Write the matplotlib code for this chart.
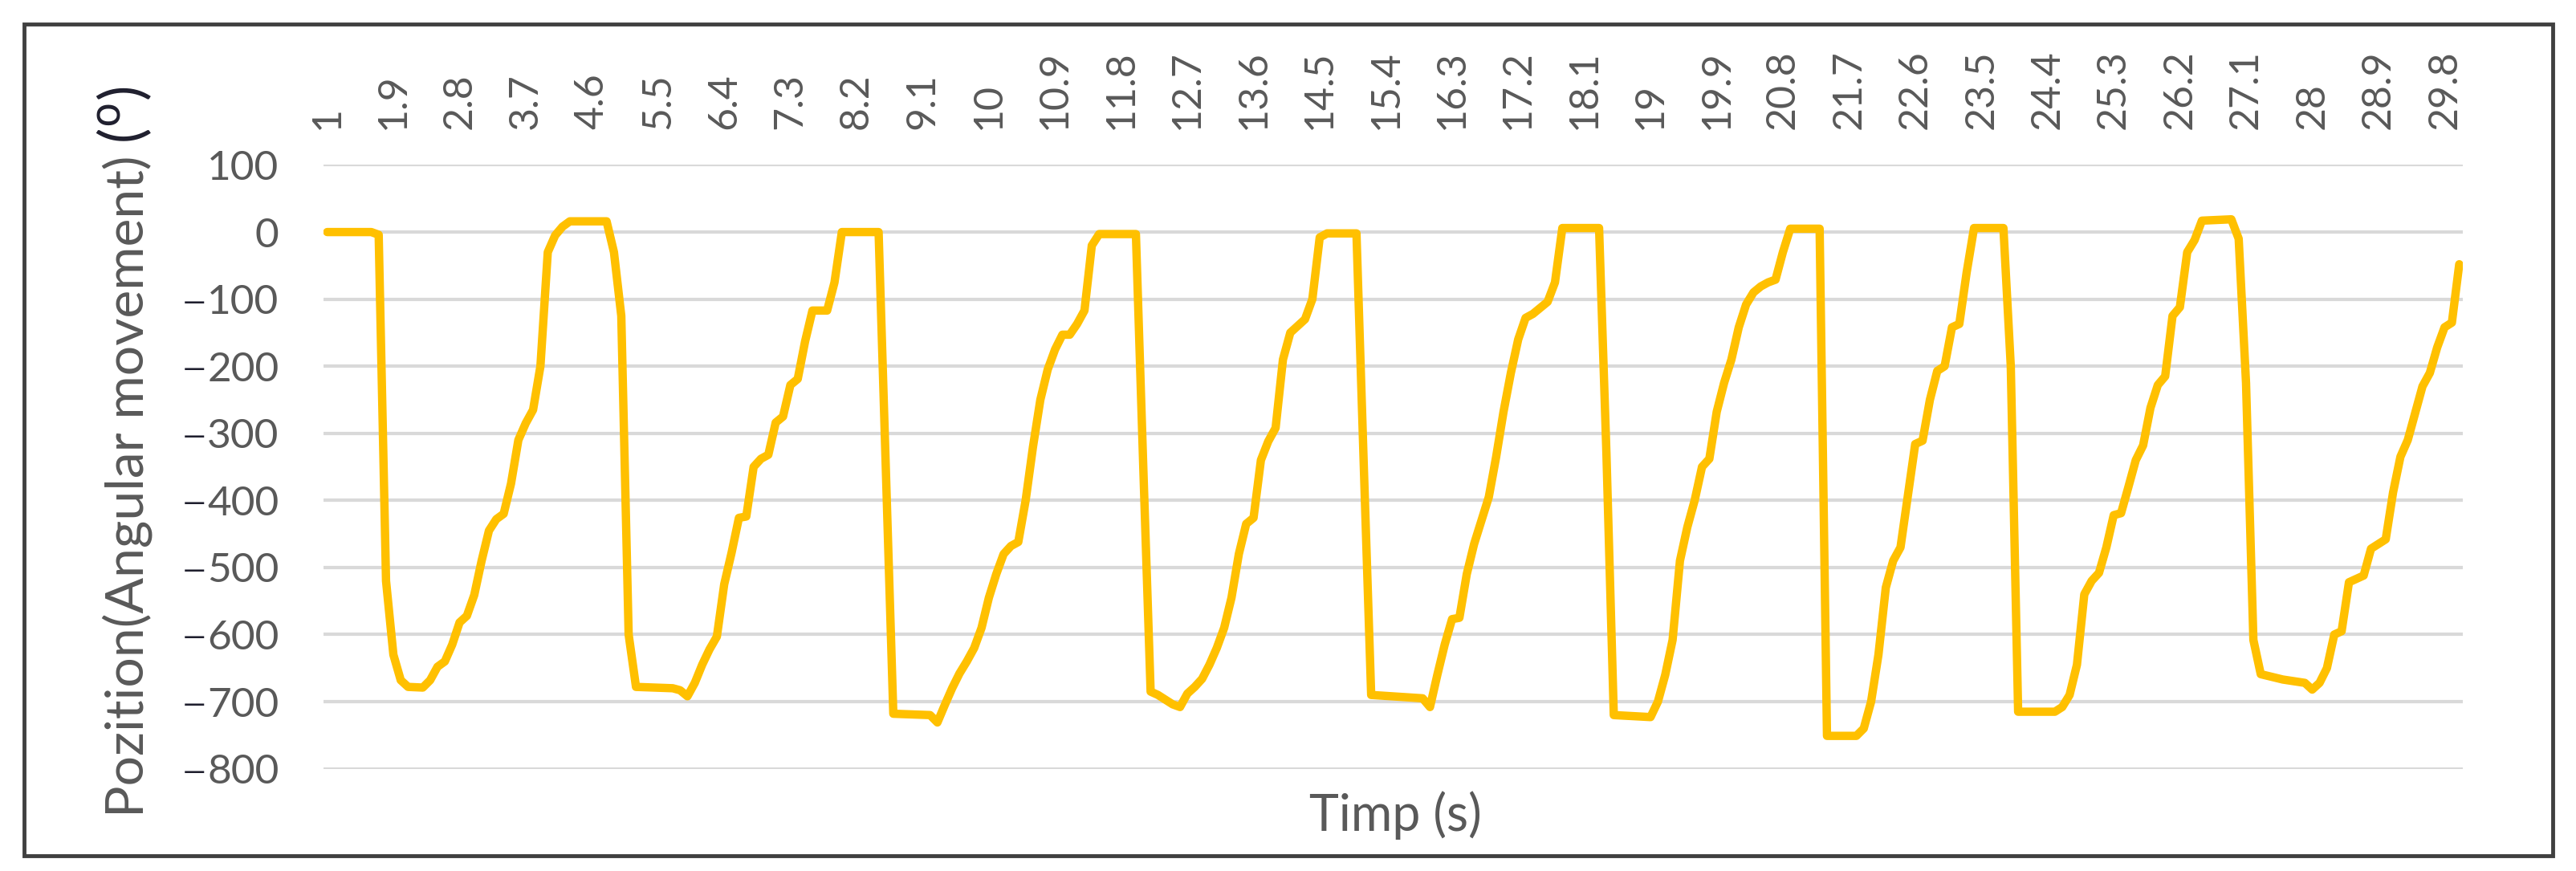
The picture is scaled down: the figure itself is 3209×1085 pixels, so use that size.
import matplotlib
matplotlib.use("Agg")
import matplotlib.pyplot as plt
from matplotlib.patches import Rectangle

# samples (time in s, angle in degrees)
time_s = [
    1.0, 1.6, 1.7, 1.8, 1.9, 2.0, 2.1, 2.3, 2.4, 2.5, 2.6, 2.7, 2.8, 2.9,
    3.0, 3.1, 3.2, 3.3, 3.4, 3.5, 3.6, 3.7, 3.8, 3.9, 4.0, 4.1, 4.2, 4.3,
    4.8, 4.9, 5.0, 5.1, 5.2, 5.7, 5.8, 5.9, 6.0, 6.1, 6.2, 6.3, 6.4, 6.5,
    6.6, 6.7, 6.8, 6.9, 7.0, 7.1, 7.2, 7.3, 7.4, 7.5, 7.6, 7.8, 7.9, 8.0,
    8.5, 8.6, 8.7, 9.2, 9.3, 9.4, 9.5, 9.6, 9.7, 9.8, 9.9, 10.0, 10.1,
    10.2, 10.3, 10.4, 10.5, 10.6, 10.7, 10.8, 10.9, 11.0, 11.1, 11.2, 11.3,
    11.4, 11.5, 12.0, 12.1, 12.2, 12.3, 12.4, 12.5, 12.6, 12.7, 12.8, 12.9,
    13.0, 13.1, 13.2, 13.3, 13.4, 13.5, 13.6, 13.7, 13.8, 13.9, 14.0, 14.1,
    14.2, 14.3, 14.4, 14.5, 14.6, 15.0, 15.1, 15.2, 15.9, 16.0, 16.1, 16.2,
    16.3, 16.4, 16.5, 16.6, 16.7, 16.8, 16.9, 17.0, 17.1, 17.2, 17.3, 17.4,
    17.5, 17.6, 17.7, 17.8, 18.3, 18.4, 18.5, 19.0, 19.1, 19.2, 19.3, 19.4,
    19.5, 19.6, 19.7, 19.8, 19.9, 20.0, 20.1, 20.2, 20.3, 20.4, 20.5, 20.6,
    20.7, 20.8, 20.9, 21.3, 21.4, 21.8, 21.9, 22.0, 22.1, 22.2, 22.3, 22.4,
    22.5, 22.6, 22.7, 22.8, 22.9, 23.0, 23.1, 23.2, 23.3, 23.4, 23.8, 23.9,
    24.0, 24.5, 24.6, 24.7, 24.8, 24.9, 25.0, 25.1, 25.2, 25.3, 25.4, 25.5,
    25.6, 25.7, 25.8, 25.9, 26.0, 26.1, 26.2, 26.3, 26.4, 26.5, 26.9, 27.0,
    27.1, 27.2, 27.3, 27.6, 27.9, 28.0, 28.1, 28.2, 28.3, 28.4, 28.5, 28.6,
    28.7, 28.8, 28.9, 29.0, 29.1, 29.2, 29.3, 29.4, 29.5, 29.6, 29.7, 29.8,
    29.9, 30.0,
]
angle_deg = [
    0, 0, -4, -520, -630, -668, -678, -679, -668, -648, -640, -615, -582, -572,
    -541, -490, -445, -428, -420, -375, -310, -285, -265, -200, -30, -5, 8, 16,
    16, -30, -125, -600, -678, -680, -683, -692, -672, -645, -622, -603, -525, -478,
    -426, -424, -350, -338, -332, -284, -275, -228, -219, -163, -117, -117, -75, 0,
    0, -360, -718, -720, -731, -705, -680, -658, -640, -620, -590, -545, -510,
    -480, -468, -462, -400, -320, -250, -205, -175, -153, -153, -137, -117,
    -20, -3, -3, -350, -685, -690, -697, -704, -708, -688, -678, -666,
    -645, -620, -590, -545, -480, -435, -426, -340, -312, -292, -190, -150,
    -140, -130, -100, -8, -2, -2, -350, -690, -695, -708, -660, -615,
    -577, -575, -510, -465, -430, -395, -335, -268, -210, -160, -128, -122,
    -113, -104, -75, 6, 6, -330, -720, -723, -700, -660, -608, -490,
    -440, -400, -350, -338, -268, -225, -190, -142, -108, -90, -81, -75,
    -71, -30, 5, 5, -751, -751, -740, -700, -630, -530, -490, -470,
    -393, -316, -311, -250, -207, -200, -142, -137, -60, 6, 6, -200,
    -715, -715, -708, -690, -645, -540, -520, -508, -470, -422, -419, -380,
    -340, -318, -262, -228, -215, -125, -112, -30, -12, 17, 19, -10,
    -225, -608, -659, -667, -672, -682, -672, -650, -600, -595, -522, -517,
    -512, -472, -465, -458, -388, -335, -310, -270, -230, -210, -172, -142,
    -135, -48,
]

tick_labels = ["1", "1.9", "2.8", "3.7", "4.6", "5.5", "6.4", "7.3", "8.2",
               "9.1", "10", "10.9", "11.8", "12.7", "13.6", "14.5", "15.4",
               "16.3", "17.2", "18.1", "19", "19.9", "20.8", "21.7", "22.6",
               "23.5", "24.4", "25.3", "26.2", "27.1", "28", "28.9", "29.8"]
y_ticks = [100, 0, -100, -200, -300, -400, -500, -600, -700, -800]

FONT = ["Lato", "DejaVu Sans"]
GREY = "#595959"
DARK = "#1f1f2e"
plt.rcParams["font.family"] = FONT

fig = plt.figure(figsize=(32.09, 10.85), dpi=100)
ax = fig.add_axes([0.1256, 0.1174, 0.8305, 0.6932])

ax.plot(time_s, angle_deg, color="#FFC000", lw=7.5,
        solid_joinstyle="round", solid_capstyle="round", zorder=3)

ax.set_xlim(0.95, 30.05)
ax.set_ylim(-800, 100)
ax.set_yticks(y_ticks)
# digits in grey; the minus signs are drawn separately in dark below
ax.set_yticklabels([str(abs(v)) for v in y_ticks])
ax.set_xticks([float(l) for l in tick_labels])
ax.set_xticklabels(tick_labels, rotation=90)

ax.xaxis.tick_top()
ax.tick_params(axis="x", length=0, pad=32, labelsize=36, labelcolor=GREY)
ax.tick_params(axis="y", length=0, pad=40, labelsize=37, labelcolor=GREY)
ax.grid(True, axis="y", color="#d9d9d9", lw=3)
ax.set_axisbelow(True)
for s in ax.spines.values():
    s.set_visible(False)

fig.canvas.draw()
renderer = fig.canvas.get_renderer()
W, H = fig.bbox.width, fig.bbox.height

for v, lab in zip(y_ticks, ax.get_yticklabels()):
    if v < 0:
        bb = lab.get_window_extent(renderer)
        fig.text((bb.x0 - 2) / W, (bb.y0 + bb.y1) / 2 / H, "\u2014",
                 ha="right", va="center", fontsize=26, color=DARK)

# axis titles
fig.text(0.5416, 0.046, "Timp (s)", ha="center", va="baseline",
         fontsize=45, color=GREY)

y_start, y_end, x_base = 1085 - 1018, 1085 - 105, 0.0555
size = 45.0
for _ in range(2):
    t1 = fig.text(x_base, y_start / H, "Pozition(Angular movement)",
                  rotation=90, rotation_mode="anchor", ha="left",
                  va="baseline", fontsize=size, color=GREY)
    bb1 = t1.get_window_extent(renderer)
    t2 = fig.text(x_base, (bb1.y1 + 0.3 * size) / H, r"($^{\mathrm{o}}$)",
                  rotation=90, rotation_mode="anchor", ha="left",
                  va="baseline", fontsize=size * 1.1, color=DARK)
    bb2 = t2.get_window_extent(renderer)
    span = bb2.y1 - y_start
    target = y_end - y_start
    if abs(span - target) < 4:
        break
    t1.remove()
    t2.remove()
    size *= target / span

# chart frame
fig.patches.append(Rectangle((0.0092, 0.0175), 0.9818, 0.9553,
                             transform=fig.transFigure, fill=False,
                             edgecolor="#404040", lw=3.5))

fig.savefig("out.png", dpi=100, facecolor="white")
